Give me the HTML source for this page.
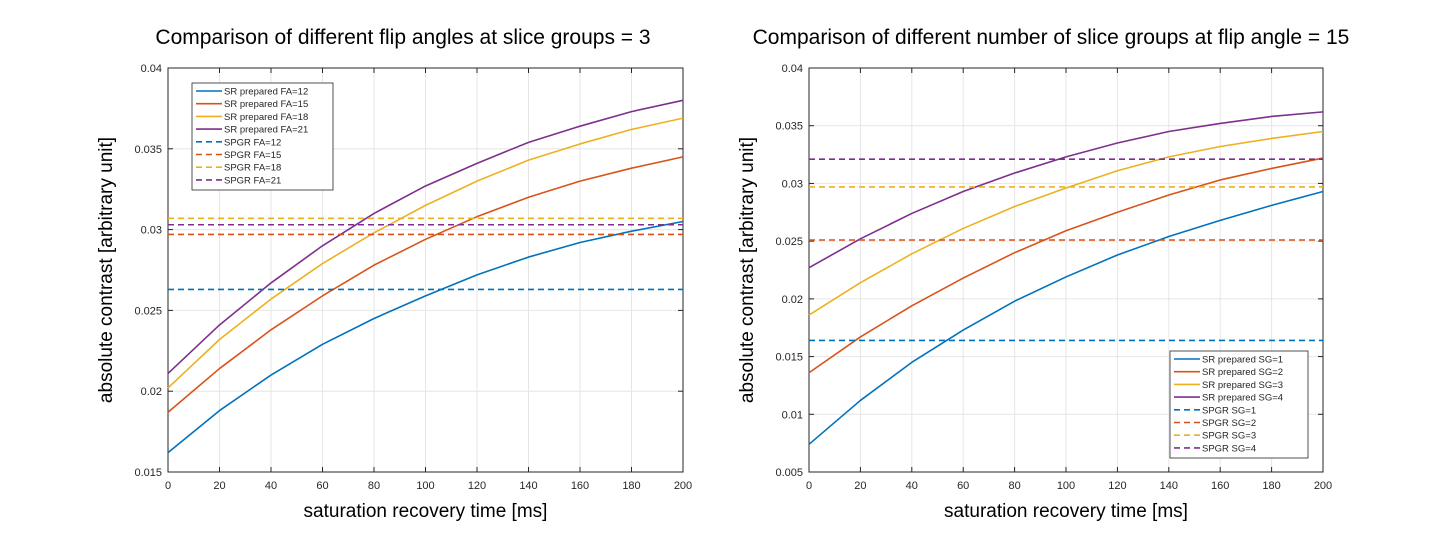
<!DOCTYPE html>
<html><head><meta charset="utf-8"><style>
body{margin:0;background:#fff;width:1440px;height:554px;overflow:hidden}
svg{font-family:"Liberation Sans",sans-serif}
</style></head><body>
<svg id="s" width="1440" height="554"></svg>
<script>
const xTicks=[0,20,40,60,80,100,120,140,160,180,200];
const colors=['#0072BD','#D95319','#EDB120','#7E2F8E'];
const leftYTicks=[0.015,0.02,0.025,0.03,0.035,0.04];
const leftYLabels=['0.015','0.02','0.025','0.03','0.035','0.04'];
const leftSR1=[0.0162,0.0188,0.0210,0.0229,0.0245,0.0259,0.0272,0.0283,0.0292,0.0299,0.0305];
const leftSR2=[0.0187,0.0214,0.0238,0.0259,0.0278,0.0294,0.0308,0.0320,0.0330,0.0338,0.0345];
const leftSR3=[0.0202,0.0232,0.0257,0.0279,0.0298,0.0315,0.0330,0.0343,0.0353,0.0362,0.0369];
const leftSR4=[0.0211,0.0241,0.0267,0.0290,0.0310,0.0327,0.0341,0.0354,0.0364,0.0373,0.0380];
const leftSPGR=[0.0263,0.0297,0.0307,0.0303];
const leftNames=['SR prepared FA=12','SR prepared FA=15','SR prepared FA=18','SR prepared FA=21','SPGR FA=12','SPGR FA=15','SPGR FA=18','SPGR FA=21'];
const rightYTicks=[0.005,0.01,0.015,0.02,0.025,0.03,0.035,0.04];
const rightYLabels=['0.005','0.01','0.015','0.02','0.025','0.03','0.035','0.04'];
const rightSR1=[0.0074,0.0112,0.0145,0.0173,0.0198,0.0219,0.0238,0.0254,0.0268,0.0281,0.0293];
const rightSR2=[0.0136,0.0167,0.0194,0.0218,0.0240,0.0259,0.0275,0.0290,0.0303,0.0313,0.0322];
const rightSR3=[0.0186,0.0214,0.0239,0.0261,0.0280,0.0296,0.0311,0.0323,0.0332,0.0339,0.0345];
const rightSR4=[0.0227,0.0252,0.0274,0.0293,0.0309,0.0323,0.0335,0.0345,0.0352,0.0358,0.0362];
const rightSPGR=[0.0164,0.0251,0.0297,0.0321];
const rightNames=['SR prepared SG=1','SR prepared SG=2','SR prepared SG=3','SR prepared SG=4','SPGR SG=1','SPGR SG=2','SPGR SG=3','SPGR SG=4'];
const NS='http://www.w3.org/2000/svg';
const svg=document.getElementById('s');
function mk(t,a,p){const e=document.createElementNS(NS,t);for(const k in a)e.setAttribute(k,a[k]);(p||svg).appendChild(e);return e;}
function plot(o){
  const g=mk('g',{});
  
  
  const L=o.x0,R=o.x1,T=68,B=472;
  const xs=v=>L+(v-0)/200*(R-L);
  const ys=v=>B-(v-o.ymin)/(o.ymax-o.ymin)*(B-T);
  mk('rect',{x:L,y:T,width:R-L,height:B-T,fill:'#fff'},g);
  xTicks.forEach(t=>{
    mk('line',{x1:xs(t),x2:xs(t),y1:T,y2:B,stroke:'#e6e6e6'},g);
    mk('line',{x1:xs(t),x2:xs(t),y1:B,y2:B-5,stroke:'#262626'},g);
    mk('line',{x1:xs(t),x2:xs(t),y1:T,y2:T+5,stroke:'#262626'},g);
    const tx=mk('text',{x:xs(t),y:B+17,'font-size':11,'text-anchor':'middle',fill:'#262626'},g);tx.textContent=t;
    
    
  });
  o.yt.forEach((t,i)=>{
    mk('line',{x1:L,x2:R,y1:ys(t),y2:ys(t),stroke:'#e6e6e6'},g);
    mk('line',{x1:L,x2:L+5,y1:ys(t),y2:ys(t),stroke:'#262626'},g);
    mk('line',{x1:R,x2:R-5,y1:ys(t),y2:ys(t),stroke:'#262626'},g);
    const tx=mk('text',{x:L-6,y:ys(t)+4,'font-size':11,'text-anchor':'end',fill:'#262626'},g);tx.textContent=o.yl[i];
    
    
  });
  mk('rect',{x:L,y:T,width:R-L,height:B-T,fill:'none',stroke:'#262626'},g);
  o.sr.forEach((s,i)=>{
    const p=mk('polyline',{points:s.map((v,j)=>xs(xTicks[j])+','+ys(v)).join(' '),fill:'none',stroke:colors[i],'stroke-width':1.6,'stroke-linejoin':'round'},g);
    
    
  });
  o.sp.forEach((v,i)=>{
    const p=mk('line',{x1:L,x2:R,y1:ys(v),y2:ys(v),stroke:colors[i],'stroke-width':1.6,'stroke-dasharray':'6,4'},g);
    
    
  });
  const lg=mk('g',{},g);
  
  
  mk('rect',{x:o.lx,y:o.ly,width:o.lw,height:107,fill:'#fff',stroke:'#262626','stroke-width':0.8},lg);
  o.names.forEach((n,i)=>{
    const y=o.ly+8+i*12.7;
    mk('line',{x1:o.lx+4,x2:o.lx+30,y1:y,y2:y,stroke:colors[i%4],'stroke-width':1.6,'stroke-dasharray':i<4?'none':'6,4'},lg);
    const t=mk('text',{x:o.lx+32,y:y+3.5,'font-size':9.5,fill:'#262626'},lg);t.textContent=n;
    
    
  });
  const ti=mk('text',{x:o.tx,y:44,'font-size':o.tfs,'text-anchor':'middle',fill:'#000'},g);ti.textContent=o.title;
  
  
  const xl=mk('text',{x:(L+R)/2,y:517,'font-size':19,'text-anchor':'middle',fill:'#000'},g);xl.textContent='saturation recovery time [ms]';
  
  
  const yx=L-56,yy=(T+B)/2;
  const yl=mk('text',{x:yx,y:yy,'font-size':19,'text-anchor':'middle',fill:'#000',transform:'rotate(-90 '+yx+' '+yy+')'},g);yl.textContent='absolute contrast [arbitrary unit]';
  
  
}
plot({name:'left-plot',x0:168,x1:683,ymin:0.015,ymax:0.04,yt:leftYTicks,yl:leftYLabels,sr:[leftSR1,leftSR2,leftSR3,leftSR4],sp:leftSPGR,names:leftNames,lx:192,ly:83,lw:141,tx:403,tfs:21,title:'Comparison of different flip angles at slice groups = 3'});
plot({name:'right-plot',x0:809,x1:1323,ymin:0.005,ymax:0.04,yt:rightYTicks,yl:rightYLabels,sr:[rightSR1,rightSR2,rightSR3,rightSR4],sp:rightSPGR,names:rightNames,lx:1170,ly:351,lw:138,tx:1051,tfs:21,title:'Comparison of different number of slice groups at flip angle = 15'});
</script>
</body></html>
